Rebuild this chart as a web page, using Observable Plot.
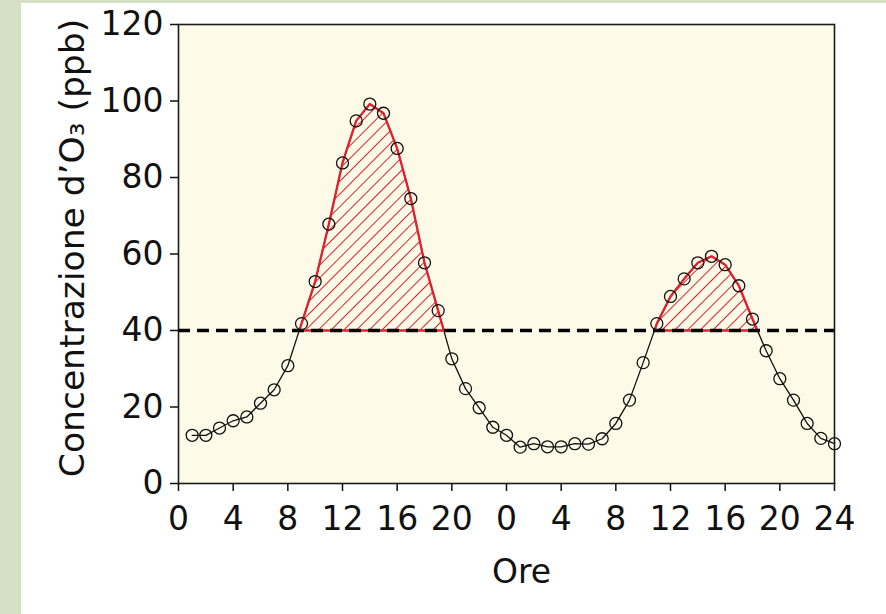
<!DOCTYPE html>
<html>
<head>
<meta charset="utf-8">
<script src="https://cdn.jsdelivr.net/npm/d3@7"></script>
<script src="https://cdn.jsdelivr.net/npm/@observablehq/plot@0.6"></script>
<style>
  html, body { margin: 0; padding: 0; }
  body { width: 886px; height: 614px; background: #d5e0c4; position: relative; overflow: hidden; }
  #chart { position: absolute; left: 21px; top: 3px; width: 865px; height: 611px; background: #ffffff; }
</style>
</head>
<body>
<div id="chart"></div>
<script>
// ---- data ----
const hours = [1,2,3,4,5,6,7,8,9,10,11,12,13,14,15,16,17,18,19,20,21,22,23,24,
               25,26,27,28,29,30,31,32,33,34,35,36,37,38,39,40,41,42,43,44,45,46,47,48];
const ozone = [12.6,12.6,14.5,16.4,17.4,21.0,24.5,30.8,41.8,52.8,67.8,83.8,94.8,99.2,96.8,87.6,74.5,57.7,45.2,32.6,24.8,19.8,14.7,12.6,
               9.5,10.4,9.6,9.6,10.4,10.3,11.7,15.7,21.8,31.6,41.8,48.9,53.5,57.7,59.4,57.2,51.7,43.0,34.7,27.4,21.8,15.7,11.8,10.4];
const threshold = 40;
const xTickValues = [0,4,8,12,16,20,24,28,32,36,40,44,48];
const xTickLabels = ["0","4","8","12","16","20","0","4","8","12","16","20","24"];
const yTickValues = [0,20,40,60,80,100,120];
const xLabel = "Ore";
const yLabel = "Concentrazione d\u2019O\u2083 (ppb)";

const data = hours.map((h, i) => ({hour: h, value: ozone[i]}));

// exceedance polygons (runs above the threshold, closed on the threshold line)
const exceed = [];
let seg = -1, inRun = false;
for (let i = 0; i < data.length; i++) {
  const d = data[i];
  if (d.value >= threshold) {
    if (!inRun) {
      seg++; inRun = true;
      const p = data[i - 1];
      const xc = p.hour + (threshold - p.value) / (d.value - p.value) * (d.hour - p.hour);
      exceed.push({seg, hour: xc, value: threshold});
    }
    exceed.push({seg, hour: d.hour, value: d.value});
    const n = data[i + 1];
    if (n && n.value < threshold) {
      const xc = d.hour + (d.value - threshold) / (d.value - n.value) * (n.hour - d.hour);
      exceed.push({seg, hour: xc, value: threshold});
      inRun = false;
    }
  }
}
const outline = [];
for (let s = 0; s <= seg; s++) {
  const pts = exceed.filter(d => d.seg === s);
  outline.push(...pts, {...pts[0]});
}

const red = "#e0202c";
const font = "DejaVu Sans, Verdana, sans-serif";

const hatchDefs = () => {
  const defs = d3.create("svg:defs");
  const p = defs.append("pattern")
    .attr("id", "hatch")
    .attr("patternUnits", "userSpaceOnUse")
    .attr("width", 9).attr("height", 9)
    .attr("patternTransform", "rotate(45)");
  p.append("line")
    .attr("x1", 0).attr("y1", 0).attr("x2", 0).attr("y2", 9)
    .attr("stroke", red).attr("stroke-width", 2);
  return defs.node();
};

const chart = Plot.plot({
  width: 865,
  height: 611,
  marginLeft: 157,
  marginRight: 52,
  marginTop: 21,
  marginBottom: 131,
  style: {background: "#ffffff", fontFamily: font, fontSize: "33px", color: "#111"},
  x: {domain: [0, 48]},
  y: {domain: [0, 120]},
  marks: [
    hatchDefs,
    Plot.frame({fill: "#fdfbe8"}),
    Plot.areaY(exceed, {x: "hour", y1: threshold, y2: "value", z: "seg", fill: "url(#hatch)"}),
    Plot.line(data, {x: "hour", y: "value", stroke: "#111", strokeWidth: 1.3}),
    Plot.line(outline, {x: "hour", y: "value", z: "seg", stroke: red, strokeWidth: 2.3}),
    Plot.ruleY([threshold], {stroke: "#000", strokeWidth: 3.5, strokeDasharray: "12,7"}),
    Plot.dot(data, {x: "hour", y: "value", r: 6, stroke: "#111", strokeWidth: 1.3, fill: "none"}),
    Plot.frame({stroke: "#1a1a1a", strokeWidth: 1.6}),
    Plot.axisX({ticks: xTickValues, tickFormat: (d, i) => xTickLabels[i], tickSize: 8, tickPadding: 15,
                label: null, fontSize: 33, fontFamily: font, stroke: "#111", strokeWidth: 1.5}),
    Plot.axisY({ticks: yTickValues, tickSize: 8, tickPadding: 7, label: null,
                fontSize: 33, fontFamily: font, stroke: "#111", strokeWidth: 1.5}),
    Plot.text([xLabel], {frameAnchor: "bottom", textAnchor: "middle", lineAnchor: "bottom", dx: 15, dy: 99,
                         fontSize: 33, fontFamily: font, fill: "#111"}),
    Plot.text([yLabel], {frameAnchor: "left", textAnchor: "middle", lineAnchor: "middle", rotate: -90, dx: -106, dy: -6,
                         fontSize: 34.5, fontFamily: font, fill: "#111"})
  ]
});
document.getElementById("chart").appendChild(chart);
</script>
</body>
</html>
